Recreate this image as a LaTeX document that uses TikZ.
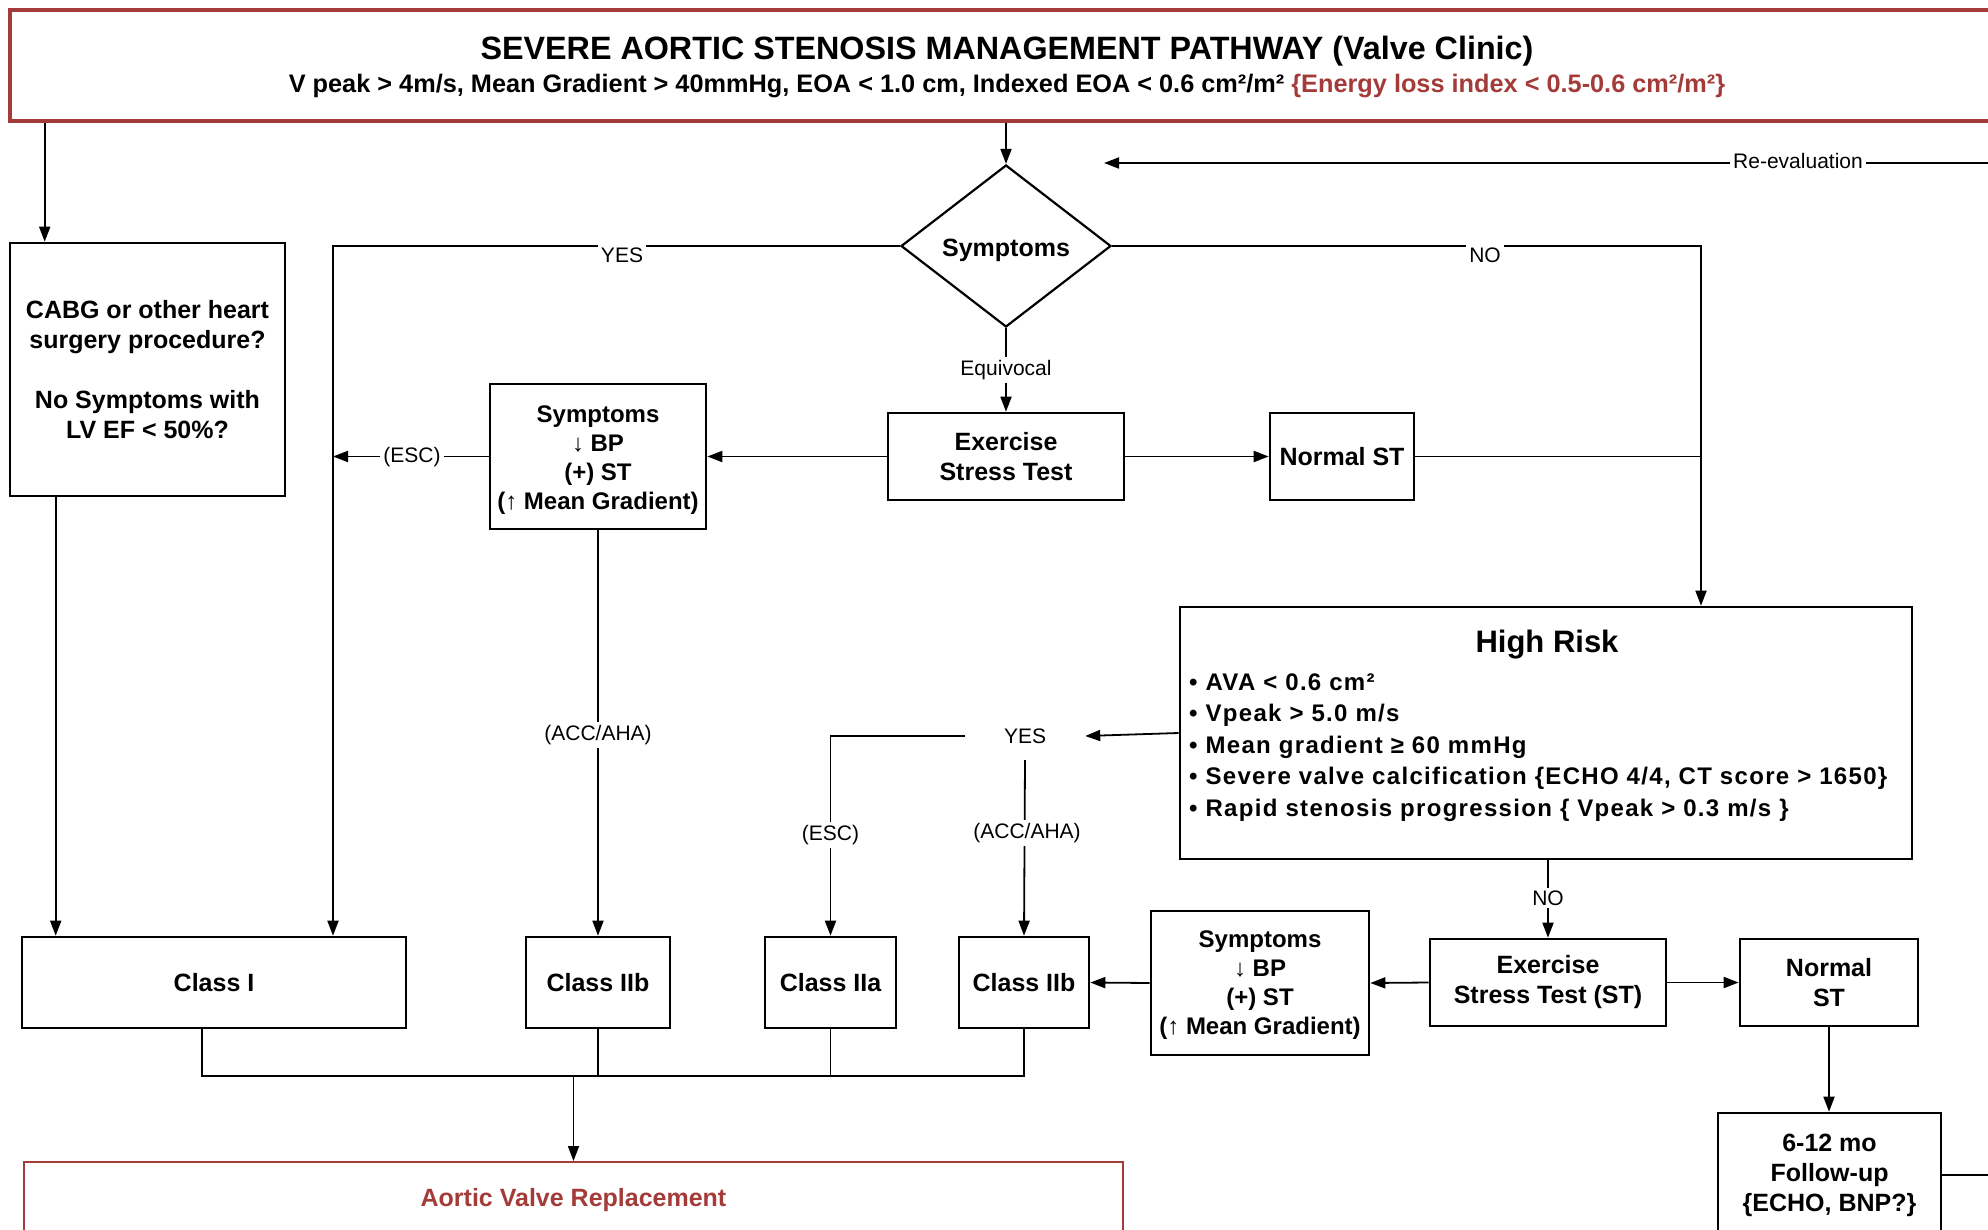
\documentclass[tikz,border=0pt]{standalone}
\usepackage{fontspec}
\setmainfont{Liberation Sans}
\newfontfamily\lsfont[LetterSpace=5.5]{Liberation Sans}
\usetikzlibrary{arrows.meta,shapes.geometric,calc}
\definecolor{avred}{RGB}{163,59,56}
\newcommand{\nf}{\bfseries\fontsize{25}{30}\selectfont}
\newcommand{\snf}{\bfseries\fontsize{24}{29}\selectfont}
\newcommand{\lblf}{\fontsize{21}{25}\selectfont}
\newcommand{\bulf}{\lsfont\bfseries\fontsize{24}{31.5}\selectfont}
\begin{document}
\begin{tikzpicture}[x=1pt,y=-1pt,
  box/.style={draw, line width=2.6pt, rectangle, inner sep=0pt, align=center, font=\nf},
  conn/.style={line width=1.8pt},
  arr/.style={conn, -{Triangle[length=15pt,width=11pt]}},
  lbl/.style={fill=white, inner sep=3pt, font=\lblf},
  bul/.style={anchor=base west, inner sep=0pt, font=\bulf},
]
\useasboundingbox (0,0) rectangle (1988,1230);
\clip (0,0) rectangle (1988,1230);

% title
\node[draw=avred, line width=3.3pt, minimum width=2000pt, minimum height=111pt, inner sep=0pt] (title) at (1010,65.5) {};
\node[font=\bfseries\fontsize{32.3}{38}\selectfont, anchor=base, inner sep=0pt] (ttl) at (1007,60) {SEVERE AORTIC STENOSIS MANAGEMENT PATHWAY (Valve Clinic)};
\node[font=\bfseries\fontsize{25.3}{30}\selectfont, anchor=base, inner sep=0pt] (sub) at (1007,93) {V peak > 4m/s, Mean Gradient > 40mmHg, EOA < 1.0 cm, Indexed EOA < 0.6 cm²/m² \textcolor{avred}{\{Energy loss index < 0.5-0.6 cm²/m²\}}};

% upper nodes
\node[box, minimum width=275pt, minimum height=253pt] (cabg) at (147.5,369.5) {CABG or other heart\\surgery procedure?\\[30pt]No Symptoms with\\LV EF < 50\%?};
\node[draw, diamond, line width=2.2pt, minimum width=210pt, minimum height=162pt, inner sep=0pt] (sym) at (1006,246) {};
\node[font=\nf, inner sep=0pt] (symt) at (1006,250) {Symptoms};
\node[box, minimum width=236pt, minimum height=87pt] (est1) at (1006,456.5) {Exercise\\Stress Test};
\node[box, minimum width=144pt, minimum height=87pt] (nst1) at (1342,456.5) {Normal ST};
\node[box, minimum width=216pt, minimum height=145pt] (s1) at (598,456.5) {};
\node[font=\snf, align=center, inner sep=0pt] (s1t) at (598,460) {Symptoms\\{\mdseries ↓} BP\\(+) ST\\({\mdseries ↑} Mean Gradient)};

% high risk
\node[box, minimum width=732pt, minimum height=252pt] (hr) at (1546,733) {};
\node[font=\bfseries\fontsize{31}{36}\selectfont, inner sep=0pt] (hrt) at (1547,645) {High Risk};
\node[bul] (b1) at (1189,690) {• AVA < 0.6 cm²};
\node[bul] (b2) at (1189,721.5) {• Vpeak > 5.0 m/s};
\node[bul] (b3) at (1189,753) {• Mean gradient ≥ 60 mmHg};
\node[bul] (b4) at (1189,784.5) {• Severe valve calcification \{ECHO 4/4, CT score > 1650\}};
\node[bul] (b5) at (1189,816) {• Rapid stenosis progression \{ Vpeak > 0.3 m/s \}};
\node[minimum width=120pt, minimum height=48pt, inner sep=0pt, font=\lblf] (yes2) at (1025,736) {YES};

% classes
\node[box, minimum width=384pt, minimum height=91pt] (c1) at (214,982.5) {Class I};
\node[box, minimum width=144pt, minimum height=91pt] (c2b1) at (598,982.5) {Class IIb};
\node[box, minimum width=131pt, minimum height=91pt] (c2a) at (830.5,982.5) {Class IIa};
\node[box, minimum width=130pt, minimum height=91pt] (c2b2) at (1024,982.5) {Class IIb};

% lower right
\node[box, minimum width=218pt, minimum height=144pt] (s2) at (1260,983) {};
\node[font=\snf, align=center, inner sep=0pt] (s2t) at (1260,985) {Symptoms\\{\mdseries ↓} BP\\(+) ST\\({\mdseries ↑} Mean Gradient)};
\node[box, minimum width=236pt, minimum height=87pt] (est2) at (1548,982.5) {Exercise\\Stress Test (ST)};
\node[box, minimum width=178pt, minimum height=87pt] (nst2) at (1829,982.5) {Normal\\ST};
\node[box, minimum width=223pt, minimum height=124pt] (fu) at (1829.5,1175) {6-12 mo\\Follow-up\\\{ECHO, BNP?\}};
\node[draw=avred, line width=2pt, minimum width=1099pt, minimum height=76pt, inner sep=0pt, font=\nf, text=avred] (avr) at (573.5,1200) {Aortic Valve Replacement};

% coordinates
\coordinate (cabgIn) at ([xshift=36pt]cabg.north west);
\coordinate (cabgOut) at ([xshift=47pt]cabg.south west);
\coordinate (yesX) at (333,246);
\coordinate (noX) at (1701,246);
\coordinate (reR) at (1995,163);
\coordinate (reL) at (1104,163);
\coordinate (redge) at (1995,0);
\coordinate (mrg) at (573.5,1076);
\coordinate (c1out) at ([xshift=-12pt]c1.south);

% connectors
\draw[arr] (cabgIn |- title.south) -- (cabgIn);
\draw[arr] (title.south -| sym.north) -- (sym.north);
\draw[arr] (sym.west) -- (yesX) -- (yesX |- c1.north);
\draw[arr] (sym.south) -- (est1.north);
\draw[arr] (sym.east) -- (noX) -- (noX |- hr.north);
\draw[arr] (est1.east) -- (nst1.west);
\draw[conn] (nst1.east) -- (nst1.east -| noX);
\draw[arr] (est1.west) -- (s1.east);
\draw[arr] (s1.west) -- (s1.west -| yesX);
\draw[arr] (s1.south) -- (c2b1.north);
\draw[arr] (cabgOut) -- (cabgOut |- c1.north);
\draw[arr] (hr.west) -- (yes2.east);
\draw[arr] (yes2.west) -| (c2a.north);
\draw[arr] (yes2.south) -- (c2b2.north);
\draw[arr] (est2.north |- hr.south) -- (est2.north);
\draw[arr] (est2.west) -- (s2.east);
\draw[arr] (s2.west) -- (c2b2.east);
\draw[arr] (est2.east) -- (nst2.west);
\draw[arr] (nst2.south) -- (nst2.south |- fu.north);
\draw[conn] (fu.east) -- (fu.east -| redge);
\draw[arr] (reR) -- (reL);
\draw[conn] (c1out) |- (c2b2.south |- mrg) -- (c2b2.south);
\draw[conn] (c2b1.south) -- (c2b1.south |- mrg);
\draw[conn] (c2a.south) -- (c2a.south |- mrg);
\draw[arr] (mrg) -- (avr.north);

% labels
\node[lbl] (lyes) at (622,255) {YES};
\node[lbl] (lno) at (1485,255) {NO};
\node[lbl] (leq) at (1006,370) {Equivocal};
\node[lbl] (lesc1) at (412,457) {(ESC)};
\node[lbl] (lacc1) at (598,735) {(ACC/AHA)};
\node[lbl] (lesc2) at (830.5,835) {(ESC)};
\node[lbl] (lacc2) at (1027,833) {(ACC/AHA)};
\node[lbl] (lno2) at (1548,898) {NO};
\node[lbl] (lre) at (1798,161) {Re-evaluation};
\end{tikzpicture}
\end{document}
